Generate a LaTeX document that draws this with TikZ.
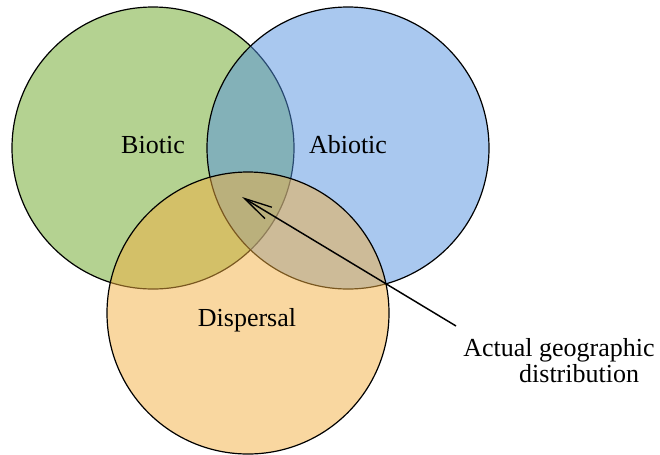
\documentclass[tikz,border=0pt]{standalone}
\usepackage{fontspec}
\setmainfont{Liberation Serif}
\usepackage{tikz}
\usetikzlibrary{arrows.meta, positioning}
\definecolor{bioticgreen}{RGB}{105, 165, 35}
\definecolor{abioticblue}{RGB}{83, 146, 224}
\definecolor{dispersalorange}{RGB}{243, 175, 65}

\begin{document}
\begin{tikzpicture}[
    x=0.75pt, y=-0.75pt,
    setcircle/.style={circle, draw=black, line width=0.9pt, fill opacity=0.5, text opacity=1, minimum size=211.5pt, inner sep=0pt},
    setlabel/.style={font=\fontsize{19.5}{19}\selectfont, anchor=base, inner sep=0pt},
    pointer/.style={draw=black, line width=1.1pt, -{Straight Barb[length=21pt, width=10pt, line width=1pt]}}
]
\useasboundingbox (0,0) rectangle (660,454);

% Three overlapping factor sets
\node[setcircle, fill=bioticgreen] (biotic) at (153,148) {};
\node[setcircle, fill=abioticblue] (abiotic) at (348,148) {};
\node[setcircle, fill=dispersalorange] (dispersal) at (248,313) {};

% Set labels
\node[setlabel] (bioticname) at (153,153) {Biotic};
\node[setlabel] (abioticname) at (348,153) {Abiotic};
\node[setlabel] (dispersalname) at (247,326) {Dispersal};

% Pointer to the triple overlap
\node[setlabel, anchor=base west, align=left] (distlabel) at (463,382) {Actual geographic\\\hspace*{2.15em}distribution};
\coordinate (tail) at (456,326);
\coordinate (overlap) at (242,197);
\draw[pointer] (tail) -- (overlap);

\end{tikzpicture}
\end{document}
